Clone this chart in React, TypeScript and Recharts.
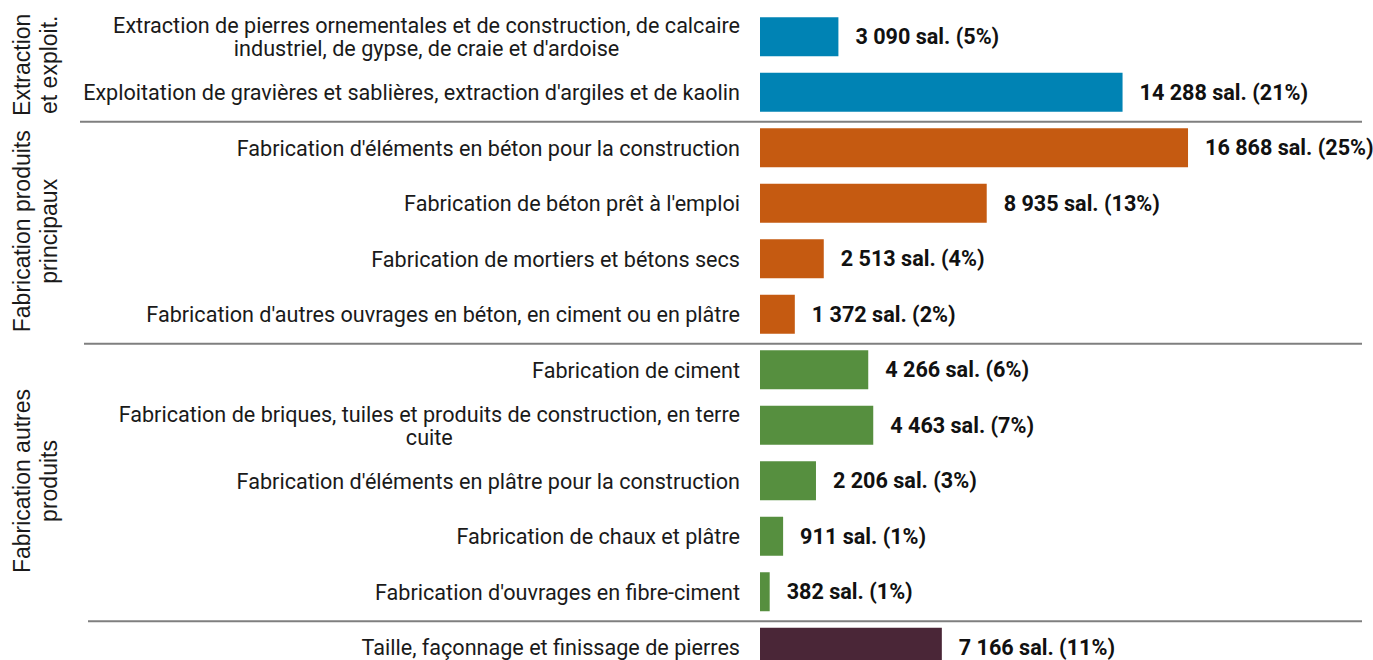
import { BarChart, Bar, XAxis, YAxis, Cell, LabelList } from "recharts";

// rows, top to bottom ("\n" marks where the reference wraps a label)
const categories = [
  "Extraction de pierres ornementales et de construction, de calcaire\nindustriel, de gypse, de craie et d'ardoise",
  "Exploitation de gravières et sablières, extraction d'argiles et de kaolin",
  "Fabrication d'éléments en béton pour la construction",
  "Fabrication de béton prêt à l'emploi",
  "Fabrication de mortiers et bétons secs",
  "Fabrication d'autres ouvrages en béton, en ciment ou en plâtre",
  "Fabrication de ciment",
  "Fabrication de briques, tuiles et produits de construction, en terre\ncuite",
  "Fabrication d'éléments en plâtre pour la construction",
  "Fabrication de chaux et plâtre",
  "Fabrication d'ouvrages en fibre-ciment",
  "Taille, façonnage et finissage de pierres",
];
const employees = [3090, 14288, 16868, 8935, 2513, 1372, 4266, 4463, 2206, 911, 382, 7166];
const shares = [5, 21, 25, 13, 4, 2, 6, 7, 3, 1, 1, 11];
const groupOfRow = [0, 0, 1, 1, 1, 1, 2, 2, 2, 2, 2, 3];
const groupNames = [
  ["Extraction", "et exploit."],
  ["Fabrication produits", "principaux"],
  ["Fabrication autres", "produits"],
  [],
];
const groupColors = ["#0083b4", "#c55a11", "#568f3f", "#4a2637"];

const WIDTH = 1373;
const HEIGHT = 690;
const MARGIN = { top: 9.25, right: 105.5, bottom: 14.75, left: 0 };
const BAND = (HEIGHT - MARGIN.top - MARGIN.bottom) / categories.length;
const SEPARATOR_LEFT = [80, 84, 88];
const SEPARATOR_RIGHT = 1362;
const FONT_SIZE = 21.6;

const fmt = (n: number) => String(n).replace(/\B(?=(\d{3})+(?!\d))/g, " ");

const data = categories.map((name, i) => ({
  name,
  value: employees[i],
  label: `${fmt(employees[i])} sal. (${shares[i]}%)`,
}));

let ctx: CanvasRenderingContext2D | null = null;
function textWidth(s: string, font: string) {
  if (!ctx) ctx = document.createElement("canvas").getContext("2d");
  if (!ctx) return s.length * 9;
  ctx.font = font;
  return ctx.measureText(s).width;
}

function CategoryTick(props: any) {
  const { x, y, index } = props;
  const lines = categories[index].split("\n");
  const g = groupOfRow[index];
  const els = [];

  if (lines.length === 1) {
    els.push(
      <text key="t" x={x} y={y} dy="0.36em" textAnchor="end" fontFamily="Roboto" fontSize={FONT_SIZE} fill="#1a1a1a">
        {lines[0]}
      </text>
    );
  } else {
    const cx = x - textWidth(lines[0], `${FONT_SIZE}px Roboto`) / 2;
    const lh = 23;
    els.push(
      <text key="t" x={cx} y={y - ((lines.length - 1) * lh) / 2} textAnchor="middle" fontFamily="Roboto" fontSize={FONT_SIZE} fill="#1a1a1a">
        {lines.map((l, k) => (
          <tspan key={k} x={cx} dy={k === 0 ? "0.36em" : lh}>
            {l}
          </tspan>
        ))}
      </text>
    );
  }

  // separator above the first row of each new group
  if (index > 0 && groupOfRow[index - 1] !== g) {
    const ly = y - BAND / 2 + 1.5;
    els.push(
      <line key="sep" x1={SEPARATOR_LEFT[g - 1]} x2={SEPARATOR_RIGHT} y1={ly} y2={ly} stroke="#7f7f7f" strokeWidth={2} />
    );
  }

  // rotated group title, centred on the group's rows
  if ((index === 0 || groupOfRow[index - 1] !== g) && groupNames[g].length) {
    const n = groupOfRow.filter((v) => v === g).length;
    const cy = y + ((n - 1) * BAND) / 2;
    const gx = 30;
    els.push(
      <text key="grp" x={gx} y={cy} transform={`rotate(-90 ${gx} ${cy})`} textAnchor="middle" fontFamily="Liberation Sans" fontSize={23} fill="#1a1a1a">
        {groupNames[g].map((l, k) => (
          <tspan key={k} x={gx} dy={k === 0 ? 0 : 27}>
            {l}
          </tspan>
        ))}
      </text>
    );
  }

  return <g>{els}</g>;
}

export default function App() {
  return (
    <div style={{ position: "absolute", left: 0, top: 0, width: WIDTH, height: 660, overflow: "hidden", background: "#fff" }}>
      <BarChart width={WIDTH} height={HEIGHT} data={data} layout="vertical" margin={MARGIN} barSize={39}>
        <XAxis type="number" domain={[0, 20000]} hide />
        <YAxis
          type="category"
          dataKey="name"
          width={760}
          interval={0}
          tickLine={false}
          axisLine={false}
          tickSize={0}
          tickMargin={20}
          tick={(p: any) => <CategoryTick {...p} />}
        />
        <Bar dataKey="value" isAnimationActive={false}>
          {data.map((d, i) => (
            <Cell key={d.name} fill={groupColors[groupOfRow[i]]} />
          ))}
          <LabelList dataKey="label" position="right" offset={17} fontFamily="Roboto" fontWeight="bold" fontSize={FONT_SIZE} fill="#111" />
        </Bar>
      </BarChart>
    </div>
  );
}
